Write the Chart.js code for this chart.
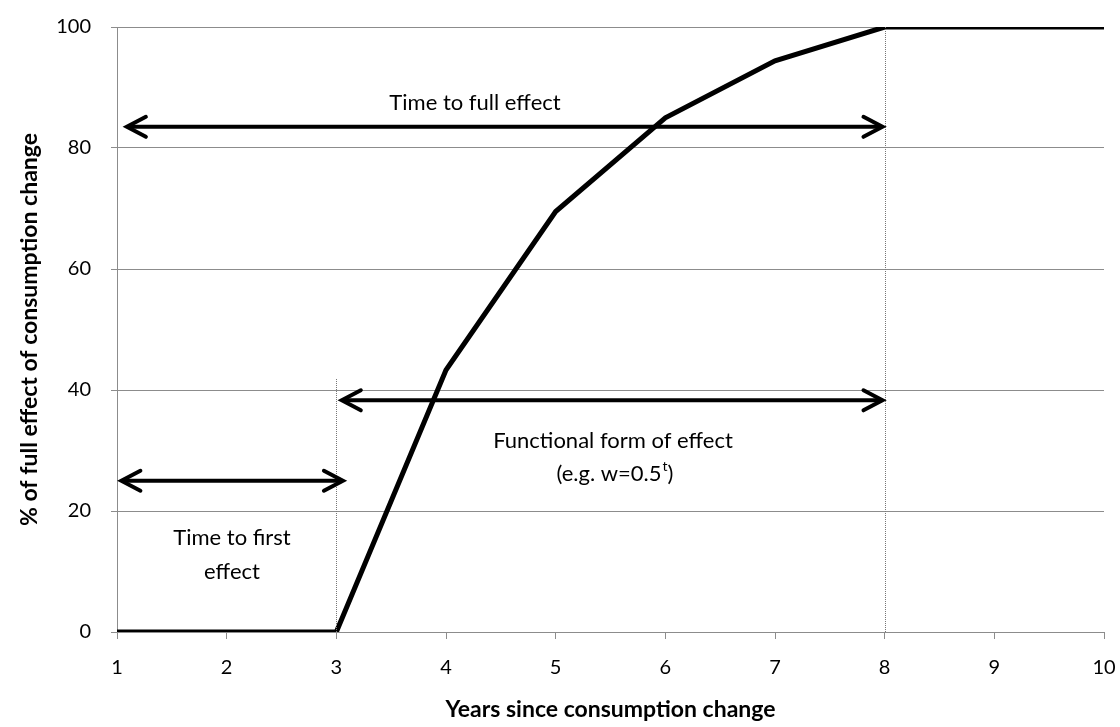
<!DOCTYPE html>
<html>
<head>
<meta charset="utf-8">
<script src="https://cdn.jsdelivr.net/npm/chart.js@4"></script>
<style>
  html, body { margin: 0; padding: 0; background: #fff; }
  #wrap { width: 1120px; height: 727px; }
</style>
</head>
<body>
<div id="wrap"><canvas id="c" width="1120" height="727"></canvas></div>
<script>
// data
const years = [1, 2, 3, 4, 5, 6, 7, 8, 9, 10];
const effect = [0, 0, 0, 43.3, 69.5, 85, 94.4, 100, 100, 100];
const yTicks = [0, 20, 40, 60, 80, 100];

// double arrows: [xFrom, xTo, y]
const arrows = [
  [1.09, 7.98, 83.5],
  [3.05, 7.98, 38.3],
  [1.04, 3.06, 25]
];
// thin guide lines: [x, yTop]
const guides = [
  [3, 42],
  [8, 100]
];

const FONT = "Lato, 'Open Sans', sans-serif";

function arrowHead(ctx, x, y, dir) {
  ctx.beginPath();
  ctx.moveTo(x - dir * 19, y - 10);
  ctx.lineTo(x, y);
  ctx.lineTo(x - dir * 19, y + 10);
  ctx.stroke();
}

const annotate = {
  id: 'annotate',
  afterDatasetsDraw(chart) {
    const ctx = chart.ctx;
    const xs = chart.scales.x, ys = chart.scales.y;
    ctx.save();
    // guides
    ctx.strokeStyle = '#777';
    ctx.lineWidth = 1;
    ctx.setLineDash([1, 1]);
    guides.forEach(g => {
      const px = Math.round(xs.getPixelForValue(g[0])) + 0.5;
      ctx.beginPath();
      ctx.moveTo(px, ys.getPixelForValue(0));
      ctx.lineTo(px, ys.getPixelForValue(g[1]));
      ctx.stroke();
    });
    ctx.setLineDash([]);
    // arrows
    ctx.strokeStyle = '#000';
    ctx.lineWidth = 4;
    ctx.lineCap = 'round';
    arrows.forEach(a => {
      const x1 = xs.getPixelForValue(a[0]);
      const x2 = xs.getPixelForValue(a[1]);
      const py = ys.getPixelForValue(a[2]);
      ctx.beginPath();
      ctx.moveTo(x1 + 2, py);
      ctx.lineTo(x2 - 2, py);
      ctx.stroke();
      arrowHead(ctx, x1, py, -1);
      arrowHead(ctx, x2, py, 1);
    });
    // text
    const cy = (v) => ys.getPixelForValue(v);
    ctx.fillStyle = '#000';
    ctx.font = '22px ' + FONT;
    ctx.textAlign = 'center';
    ctx.textBaseline = 'middle';
    ctx.fillText("Time to full effect", 475, cy(87.5));
    ctx.fillText("Functional form of effect", 613, cy(31.6));
    ctx.fillText("Time to first", 232, cy(15.5));
    ctx.fillText("effect", 232, cy(10));
    // (e.g. w=0.5^t)
    const main = "(e.g. w=0.5", sup = "t", close = ")";
    const yy = cy(26.2);
    const wMain = ctx.measureText(main).width;
    const wClose = ctx.measureText(close).width;
    ctx.font = '14px ' + FONT;
    const wSup = ctx.measureText(sup).width;
    let sx = 615 - (wMain + wSup + wClose + 1) / 2;
    ctx.textAlign = 'left';
    ctx.font = '22px ' + FONT;
    ctx.fillText(main, sx, yy);
    sx += wMain;
    ctx.font = '14px ' + FONT;
    ctx.fillText(sup, sx + 1, yy - 7);
    sx += wSup + 1;
    ctx.font = '22px ' + FONT;
    ctx.fillText(close, sx, yy);
    ctx.restore();
  }
};

new Chart(document.getElementById('c'), {
  type: 'line',
  data: {
    datasets: [{
      data: years.map((x, i) => ({ x: x, y: effect[i] })),
      borderColor: '#000',
      borderWidth: 5,
      pointRadius: 0,
      tension: 0,
      fill: false
    }]
  },
  options: {
    responsive: false,
    animation: false,
    events: [],
    layout: { padding: { top: 27, right: 16, left: 0, bottom: 0 } },
    plugins: { legend: { display: false }, tooltip: { enabled: false } },
    scales: {
      x: {
        type: 'linear',
        min: 1, max: 10,
        afterBuildTicks: (s) => { s.ticks = years.map(v => ({ value: v })); },
        afterFit: (s) => { s.height = 95; s.paddingLeft = 0; s.paddingRight = 0; },
        grid: { display: true, drawOnChartArea: false, color: '#8c8c8c', tickLength: 7 },
        border: { color: '#8c8c8c', width: 1 },
        ticks: { color: '#000', font: { family: FONT, size: 20 }, padding: 17, maxRotation: 0 },
        title: { display: true, text: 'Years since consumption change', color: '#000',
                 font: { family: FONT, size: 23, weight: 'bold' }, padding: { top: 4 } }
      },
      y: {
        min: 0, max: 100,
        afterBuildTicks: (s) => { s.ticks = yTicks.map(v => ({ value: v })); },
        afterFit: (s) => { s.width = 117; s.paddingTop = 0; s.paddingBottom = 0; },
        grid: { color: '#8c8c8c', tickLength: 6 },
        border: { color: '#8c8c8c', width: 1 },
        ticks: { color: '#000', font: { family: FONT, size: 20 }, padding: 20 },
        title: { display: true, text: '% of full effect of consumption change', color: '#000',
                 font: { family: FONT, size: 23, weight: 'bold' }, padding: { top: 16, bottom: 0 } }
      }
    }
  },
  plugins: [annotate]
});
</script>
</body>
</html>
